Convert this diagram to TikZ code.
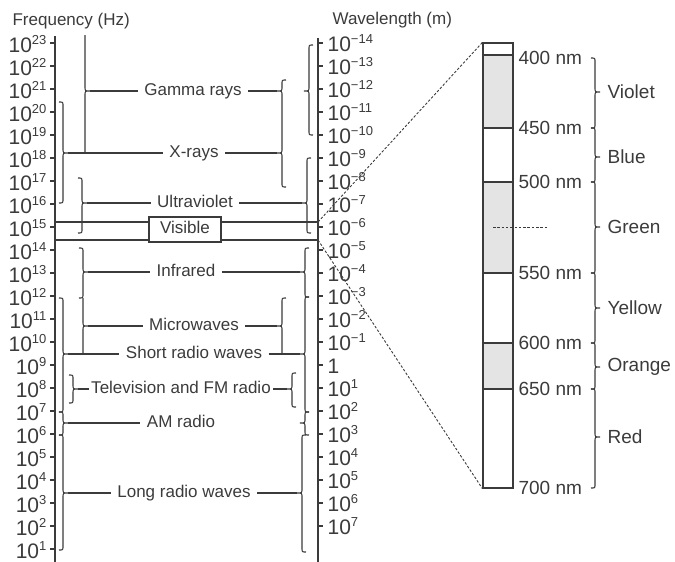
\documentclass[tikz,border=0pt]{standalone}
\usepackage{fontspec}
\setmainfont{Liberation Sans}
\usetikzlibrary{calc}
\definecolor{ink}{HTML}{3B3B3B}
\definecolor{band}{HTML}{E4E4E4}
\newcommand\pw[1]{10\raisebox{7.5pt}{\fontsize{13}{13}\selectfont #1}}
% brace: x, top, tip, bottom, side (1 tip right, -1 tip left), tip name
\newcommand\curl[6]{%
  \draw[brace] ({#1-4*(#5)},#2) .. controls (#1,#2) .. (#1,#2+4) -- (#1,#3-4)
    .. controls (#1,#3) .. ({#1+5*(#5)},#3) coordinate (#6)
    .. controls (#1,#3) .. (#1,#3+4) -- (#1,#4-4)
    .. controls (#1,#4) .. ({#1-4*(#5)},#4);}

\begin{document}
\begin{tikzpicture}[x=1pt,y=-1pt,ink,line width=1.2pt,
  brace/.style={ink,line width=1.1pt},
  wire/.style={ink,line width=1.2pt},
  zoomline/.style={ink,line width=0.9pt,dash pattern=on 2.5pt off 1.8pt},
  bandlabel/.style={font=\fontsize{17}{17}\selectfont,inner xsep=6pt,inner ysep=0pt,text height=12pt,text depth=3.5pt},
  num/.style={font=\fontsize{21}{21}\selectfont,inner sep=0pt},
  nm/.style={font=\fontsize{19}{19}\selectfont,inner sep=2pt,anchor=west},
  hue/.style={font=\fontsize{19}{19}\selectfont,inner xsep=7pt,inner ysep=0pt,anchor=west}]
\useasboundingbox (0,0) rectangle (675,562);

% headings
\node[anchor=base west,font=\fontsize{17}{17}\selectfont,inner sep=0pt] (freq) at (12,25) {Frequency (Hz)};
\node[anchor=base west,font=\fontsize{17}{17}\selectfont,inner sep=0pt] (wave) at (332,24) {Wavelength (m)};

% the two scales
\draw (55,36) -- (55,562);
\draw (318,38) -- (318,562);
\foreach \i in {0,...,22}
{
\pgfmathtruncatemacro\e{23-\i}
\draw (50,43+23*\i) -- (55,43+23*\i);
\node[num,anchor=base east] (f\e) at (47,{52+23*\i}) {\pw{\e}};
}
\foreach \i in {0,...,21}
\draw (318,43+23*\i) -- (323,43+23*\i);
\foreach \e in {1,...,14}
\node[num,anchor=base west] (wm\e) at (327,{51+23*(14-\e)}) {\pw{−\e}};
\node[num,anchor=base west] (w0) at (327,{51+23*14}) {1};
\foreach \e in {1,...,7}
\node[num,anchor=base west] (wp\e) at (327,{51+23*(14+\e)}) {\pw{\e}};

% visible band
\draw (55,222) -- (318,222) coordinate (vt);
\draw (55,240) -- (318,240) coordinate (vb);

% braces, frequency side
\draw[brace] (85,35) -- (85,87) .. controls (85,91) .. (90,91) coordinate (gL)
  .. controls (85,91) .. (85,95) -- (85,153);
\curl{63}{102}{153}{203}{1}{xL}
\curl{82}{178}{203}{233}{1}{uL}
\curl{83}{248}{272}{298}{1}{iL}
\draw[brace] (83,298) -- (83,322) .. controls (83,326) .. (88,326) coordinate (mL)
  .. controls (83,326) .. (83,330) -- (83,354);
\curl{63}{298}{354}{412}{1}{sL}
\curl{73}{375}{389}{403}{1}{tL}
\curl{63}{412}{423}{435}{1}{aL}
\curl{63}{435}{493}{550}{1}{lL}

% braces, wavelength side
\draw[brace] (286,80) .. controls (282,80) .. (282,84) -- (282,87)
  .. controls (282,91) .. (277,91) coordinate (gR) .. controls (282,91) .. (282,95)
  -- (282,149) .. controls (282,153) .. (277,153) coordinate (xR)
  .. controls (282,153) .. (282,157) -- (282,183) .. controls (282,187) .. (286,187);
\curl{309}{45}{91}{135}{-1}{gW}
\curl{307}{158}{203}{233}{-1}{uR}
\curl{305}{248}{272}{297}{-1}{iR}
\draw[brace] (286,298) .. controls (282,298) .. (282,302) -- (282,322)
  .. controls (282,326) .. (277,326) coordinate (mR) .. controls (282,326) .. (282,330) -- (282,354);
\curl{305}{297}{354}{412}{-1}{sR}
\curl{292}{373}{389}{407}{-1}{tR}
\curl{305}{412}{423}{435}{-1}{aR}
\curl{302}{435}{493}{552}{-1}{lR}

% band names
\node[bandlabel] (gamma) at (193,91) {Gamma rays};
\node[bandlabel] (xray) at (194,153) {X-rays};
\node[bandlabel] (uv) at (195,203) {Ultraviolet};
\node[draw,fill=white,bandlabel,minimum width=72pt,minimum height=25pt] (vis) at (185,229.5) {Visible};
\node[bandlabel] (ir) at (186,272) {Infrared};
\node[bandlabel] (micro) at (194,326) {Microwaves};
\node[bandlabel] (short) at (194,354) {Short radio waves};
\node[bandlabel,inner xsep=2pt] (tv) at (181,389) {Television and FM radio};
\node[bandlabel] (am) at (181,423) {AM radio};
\node[bandlabel] (long) at (184,493) {Long radio waves};

\draw[wire] (gL) -- (gamma);
\draw[wire] (gamma) -- (gR);
\draw[wire] (xL) -- (xray);
\draw[wire] (xray) -- (xR);
\draw[wire] (uL) -- (uv);
\draw[wire] (uv) -- (uR);
\draw[wire] (iL) -- (ir);
\draw[wire] (ir) -- (iR);
\draw[wire] (mL) -- (micro);
\draw[wire] (micro) -- (mR);
\draw[wire] (sL) -- (short);
\draw[wire] (short) -- (sR);
\draw[wire] (tL) -- (tv);
\draw[wire] (tv) -- (tR);
\draw[wire] (aL) -- (am);
\draw[wire] (lL) -- (long);
\draw[wire] (long) -- (lR);

% visible spectrum bar
\fill[band] (483,55) rectangle (513,128);
\fill[band] (483,182) rectangle (513,273);
\fill[band] (483,343) rectangle (513,389);
\node[draw,minimum width=30pt,minimum height=445pt,inner sep=0pt] (bar) at (498,265.5) {};
\foreach \y in {55,128,182,273,343,389}
\draw (483,\y) -- (513,\y);
\draw[zoomline] (493,227) -- (548,227);
\draw[zoomline] (vt) -- (bar.north west);
\draw[zoomline] (vb) -- (bar.south west);

\foreach \y/\t in {58/400,128/450,182/500,273/550,343/600,389/650,488/700}
\node[nm] (nm\t) at (516,\y) {\t\ nm};

\curl{595}{58}{92}{128}{1}{violetT}
\curl{595}{128}{157}{182}{1}{blueT}
\curl{595}{182}{227}{273}{1}{greenT}
\curl{595}{273}{308}{343}{1}{yellowT}
\curl{595}{343}{367}{389}{1}{orangeT}
\curl{595}{389}{437}{488}{1}{redT}
\node[hue] (violet) at (violetT) {Violet};
\node[hue] (blue) at (blueT) {Blue};
\node[hue] (green) at (greenT) {Green};
\node[hue] (yellow) at (yellowT) {Yellow};
\node[hue] (orange) at (orangeT) {Orange};
\node[hue] (red) at (redT) {Red};
\end{tikzpicture}
\end{document}
